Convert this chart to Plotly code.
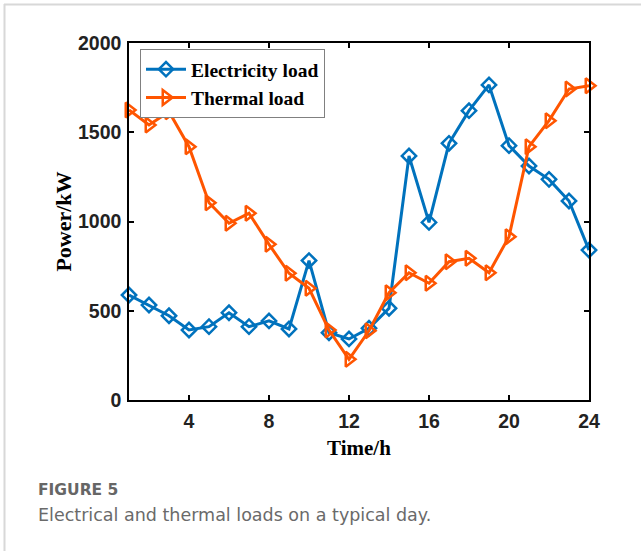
import plotly.graph_objects as go

hours = list(range(1, 25))
electricity_load = [588, 532, 472, 392, 411, 489, 411, 443, 398, 781, 377, 342,
                    402, 514, 1367, 995, 1438, 1621, 1765, 1425, 1311, 1236, 1115, 840]
thermal_load = [1625, 1541, 1615, 1419, 1105, 990, 1046, 872, 710, 626, 392, 228,
                388, 601, 713, 654, 775, 794, 713, 915, 1419, 1565, 1742, 1761]
x_ticks = [4, 8, 12, 16, 20, 24]
y_ticks = [0, 500, 1000, 1500, 2000]

BLUE = "#0072BD"
ORANGE = "#FF5500"

fig = go.Figure()
fig.add_trace(go.Scatter(
    x=hours, y=electricity_load, name="Electricity load", mode="lines+markers",
    line=dict(color=BLUE, width=3),
    marker=dict(symbol="diamond-open", size=11, line=dict(width=2.5, color=BLUE)),
    cliponaxis=False))
fig.add_trace(go.Scatter(
    x=hours, y=thermal_load, name="Thermal load", mode="lines+markers",
    line=dict(color=ORANGE, width=3),
    marker=dict(symbol="triangle-right-open", size=13, line=dict(width=2.5, color=ORANGE)),
    cliponaxis=False))

L, R, T, B = 129, 589, 43, 400
W, H = 641, 551

def px(x):
    return (x - L) / (R - L)

def py(y):
    return (B - y) / (B - T)

axis_common = dict(showline=True, linecolor="black", linewidth=1.5, mirror="ticks",
                   ticks="inside", ticklen=5, tickwidth=1.5, tickcolor="black",
                   showgrid=False, zeroline=False,
                   tickfont=dict(family="Liberation Sans, Arial", size=19.5, color="#222", weight="bold"))

fig.update_layout(
    width=W, height=H,
    margin=dict(l=L, r=W - R, t=T, b=H - B, pad=0),
    paper_bgcolor="white", plot_bgcolor="white",
    xaxis=dict(range=[1, 24], tickvals=x_ticks, ticklabelstandoff=3,
               title=dict(text="Time/h", standoff=9,
                          font=dict(family="Liberation Serif, Times New Roman", size=21, color="black", weight="bold")),
               **axis_common),
    yaxis=dict(range=[0, 2000], tickvals=y_ticks, ticklabelstandoff=2,
               title=dict(text="Power/kW", standoff=0,
                          font=dict(family="Liberation Serif, Times New Roman", size=22, color="black", weight="bold")),
               **axis_common),
    legend=dict(x=px(140), y=py(49), xanchor="left", yanchor="top",
                bgcolor="white", bordercolor="#808080", borderwidth=1,
                font=dict(family="Liberation Serif, Times New Roman", size=19.5, color="black", weight="bold"),
                itemwidth=40, tracegroupgap=0),
    showlegend=True,
    shapes=[
        dict(type="line", xref="paper", yref="paper", x0=px(4), x1=px(641), y0=py(4.5), y1=py(4.5),
             line=dict(color="#d8d8d8", width=2)),
        dict(type="line", xref="paper", yref="paper", x0=px(4.5), x1=px(4.5), y0=py(4), y1=py(551),
             line=dict(color="#d8d8d8", width=2)),
    ],
    annotations=[
        dict(text="FIGURE 5", xref="paper", yref="paper", x=px(36), y=py(490),
             xanchor="left", yanchor="middle", showarrow=False,
             font=dict(family="DejaVu Sans", size=15.5, color="#666666", weight=600)),
        dict(text="Electrical and thermal loads on a typical day.", xref="paper", yref="paper",
             x=px(36), y=py(515), xanchor="left", yanchor="middle", showarrow=False,
             font=dict(family="DejaVu Sans", size=17.5, color="#6a6a6a")),
    ],
)

fig.write_html("out.html")
